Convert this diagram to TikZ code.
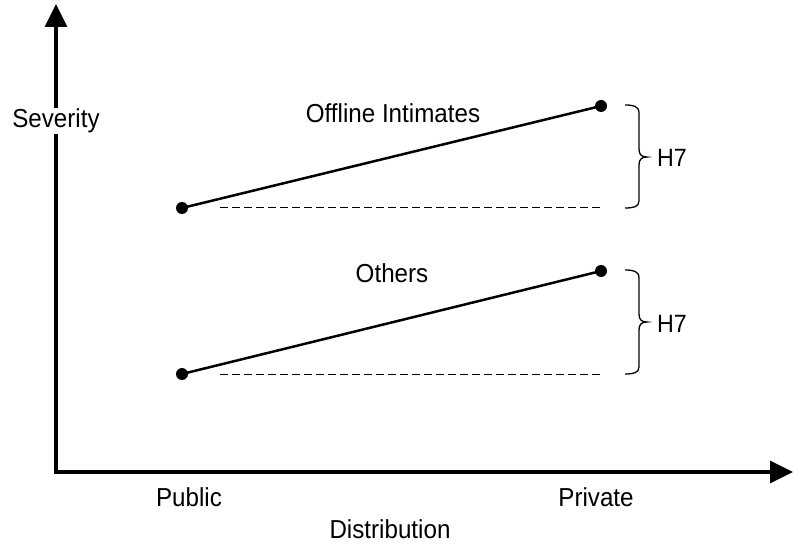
\documentclass[tikz,border=0pt]{standalone}
\usepackage{fontspec}
\setmainfont{Liberation Sans}
\usetikzlibrary{arrows.meta}
\newcommand{\hsq}[1]{\scalebox{0.93}[1]{#1}}
\begin{document}
\begin{tikzpicture}[x=1pt,y=-1pt,
  lbl/.style={anchor=base,inner sep=0pt,font=\fontsize{26}{30}\selectfont},
  hlbl/.style={anchor=base west,inner sep=0pt,font=\fontsize{25}{28}\selectfont},
  axis/.style={line width=3.5pt,-{Triangle[width=22pt,length=23pt]}},
  dataline/.style={line width=2.5pt},
  dot/.style={circle,fill=black,inner sep=0pt,minimum size=12pt},
  base/.style={line width=1pt,dash pattern=on 8pt off 4pt},
  hbrace/.style={line width=1.3pt}]
\useasboundingbox (0,0) rectangle (793,548);
% axes
\coordinate (O) at (56,474);
\coordinate (Ytip) at (56,4);
\coordinate (Xtip) at (793,472);
\coordinate (Xs) at (54,472);
\draw[axis] (O) -- (Ytip);
\draw[axis] (Xs) -- (Xtip);
% upper series
\node[dot] (a1) at (182,208) {};
\node[dot] (a2) at (601,106) {};
\draw[dataline] (a1.center) -- (a2.center);
\coordinate (d1s) at (220,208);
\coordinate (d1e) at (601,208);
\draw[base] (d1s) -- (d1e);
% lower series
\node[dot] (b1) at (182,374) {};
\node[dot] (b2) at (601,271) {};
\draw[dataline] (b1.center) -- (b2.center);
\coordinate (d2s) at (220,374);
\coordinate (d2e) at (601,374);
\draw[base] (d2s) -- (d2e);
% braces
\coordinate (br1t) at (625,105);
\coordinate (br1m) at (647,157);
\coordinate (br1b) at (625,208);
\draw[hbrace] (br1t) .. controls (633,105) and (639,106) .. (639,113) -- (639,149)
  .. controls (639,155) and (642,157) .. (br1m)
  .. controls (642,157) and (639,159) .. (639,165) -- (639,201)
  .. controls (639,207) and (633,208) .. (br1b);
\coordinate (br2t) at (625,270);
\coordinate (br2m) at (647,322);
\coordinate (br2b) at (625,374);
\draw[hbrace] (br2t) .. controls (633,270) and (639,271) .. (639,278) -- (639,314)
  .. controls (639,320) and (642,322) .. (br2m)
  .. controls (642,322) and (639,324) .. (639,330) -- (639,367)
  .. controls (639,373) and (633,374) .. (br2b);
% labels
\node[lbl,fill=white,inner sep=1pt] (sev) at (56,128) {\hsq{Severity}};
\node[lbl] (oi) at (393,123) {\hsq{Offline Intimates}};
\node[lbl] (oth) at (392,283) {\hsq{Others}};
\node[lbl] (pub) at (189,506) {\hsq{Public}};
\node[lbl] (pri) at (596,506) {\hsq{Private}};
\node[lbl] (dist) at (390,538) {\hsq{Distribution}};
\node[hlbl] (h1) at (657,167) {\hsq{H7}};
\node[hlbl] (h2) at (657,332) {\hsq{H7}};
\end{tikzpicture}
\end{document}
